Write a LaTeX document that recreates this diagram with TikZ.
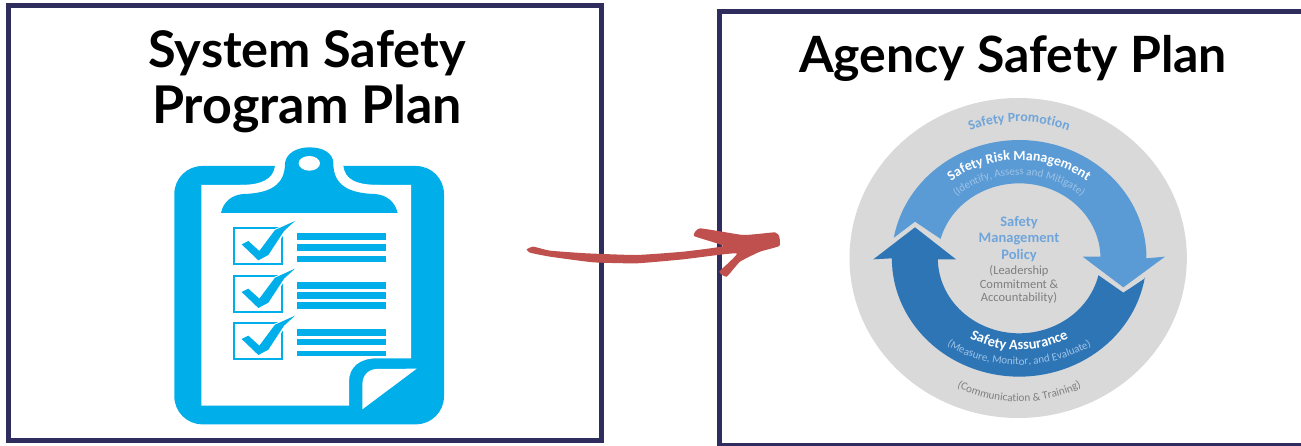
\documentclass[tikz,border=0pt]{standalone}
\usepackage{fontspec}
\setmainfont{Lato}
\newfontfamily\calfont{Carlito}
\usetikzlibrary{decorations.text}
\definecolor{frameblue}{HTML}{2E2D5E}
\definecolor{clipblue}{HTML}{00AEEA}
\definecolor{redarrow}{HTML}{C0504D}
\definecolor{ringgray}{HTML}{D9D9D9}
\definecolor{lightring}{HTML}{5B9BD5}
\definecolor{darkring}{HTML}{2E75B6}
\definecolor{paletext}{HTML}{9DC3E6}
\definecolor{midtext}{HTML}{6FA5DB}
\definecolor{greytext}{HTML}{7F7F7F}
\tikzset{
  frame/.style={draw=frameblue,line width=5pt,fill=white,outer sep=0pt,inner sep=0pt,anchor=north west},
  title/.style={font=\fontsize{50}{56}\selectfont\bfseries,text=black,inner sep=0pt,anchor=base},
  bar/.style={fill=clipblue,draw=none},
  cblue/.style={fill=clipblue,draw=none},
  cwhite/.style={fill=white,draw=none},
  cbox/.style={draw=clipblue,line width=2.3pt,fill=white},
  zoomA/.style={shift={(160,140)},x=0.33333pt,y=-0.33333pt},
  zoomB/.style={shift={(840,100)},x=0.33333pt,y=-0.33333pt},
  zoomC/.style={shift={(510,210)},x=0.33333pt,y=-0.33333pt},
  centreblue/.style={font=\calfont\bfseries\fontsize{14.5}{16}\selectfont,text=midtext,inner sep=0pt},
  centregrey/.style={font=\calfont\fontsize{12.5}{14}\selectfont,text=greytext,inner sep=0pt},
}
\newcommand{\checkitem}[1]{%
  \draw[cbox] (221,#1) rectangle (367,#1+108);
  \fill[cwhite] (243,#1+48) -- (265,#1+36) -- (298,#1+64) -- (342,#1+3) -- (405,#1-24) -- (378,#1+7) -- (330,#1+84) -- (295,#1+100) -- cycle;
  \fill[cblue] (245,#1+48) -- (265,#1+38) -- (298,#1+68) -- (345,#1+5) -- (405,#1-22) -- (372,#1+8) -- (325,#1+80) -- (295,#1+96) -- cycle;
}
\newcommand{\arctext}[5]{%
  \path[postaction={decorate,decoration={text along path,text align=center,text={#5}}}]
    plot[domain=#3:#4,samples=60] ({537.5+#1*cos(\x)},{475-#2*sin(\x)});
}
\begin{document}
\begin{tikzpicture}[x=1pt,y=-1pt]
\useasboundingbox (0,0) rectangle (1301,446);
\fill[white] (0,0) rectangle (1301,446);
\node[frame,minimum width=593pt,minimum height=435pt] (leftbox) at (8,5.5) {};
\node[frame,minimum width=620pt,minimum height=434pt] (rightbox) at (719,11.5) {};
\node[title,font=\fontsize{50.5}{56}\selectfont\bfseries] (t1) at (307,68) {System Safety};
\node[title,font=\fontsize{52}{56}\selectfont\bfseries] (t2) at (307,124) {Program Plan};
\node[title] (t3) at (1013,73) {Agency Safety Plan};
\begin{scope}[zoomA]
  \fill[cblue,rounded corners=28pt] (43,78) rectangle (852,853);
  \fill[cwhite] (124,135) -- (753,135) -- (753,655) -- (650,655) .. controls (600,655) and (567,680) .. (567,725) -- (567,797) -- (124,797) -- cycle;
  \fill[cwhite] (345,60) -- (345,78) .. controls (340,120) and (300,135) .. (240,135) -- (660,135) .. controls (590,135) and (555,120) .. (550,78) -- (550,60) -- cycle;
  \fill[cblue] (183,219) .. controls (190,185) and (215,165) .. (250,162) .. controls (330,160) and (375,135) .. (375,70) .. controls (378,40) and (410,22) .. (448,22) .. controls (490,22) and (520,40) .. (520,70) .. controls (520,135) and (565,160) .. (645,162) .. controls (680,165) and (705,185) .. (713,219) -- cycle;
  \fill[cwhite] (448,70) ellipse [x radius=32,y radius=22];
  \fill[cwhite] (607,808) -- (607,735) .. controls (607,705) and (625,688) .. (650,687) -- (770,686) -- cycle;
  \checkitem{265}
  \checkitem{408}
  \checkitem{549}
  \foreach \a/\b in {279/300,312/333,348/366,426/446,456/476,486/507,567/588,597/615,633/648}
    \fill[bar] (411,\a) rectangle (678,\b);
\end{scope}
\begin{scope}[zoomB]
  \fill[ringgray] (534.5,474) ellipse [x radius=506,y radius=480];
  \fill[lightring] plot[domain=170:0,samples=60] ({537.5+382*cos(\x)},{475-355*sin(\x)})
     -- (975,470) -- (850,562) -- (728,470) -- (783,470)
     -- plot[domain=0:165,samples=60] ({537.5+244*cos(\x)},{475-225*sin(\x)})
     -- (225,365) -- cycle;
  \fill[darkring] (100,478) -- (225,382) -- (348,478) -- (293,478)
     -- plot[domain=180:347,samples=60] ({537.5+244*cos(\x)},{475-225*sin(\x)})
     -- (850,578) -- (915,535)
     -- plot[domain=-9:-180,samples=60] ({537.5+382*cos(\x)},{475-355*sin(\x)})
     -- cycle;
  \arctext{410}{410}{120}{60}{|\calfont\bfseries\fontsize{13.8}{15}\selectfont\color{midtext}|Safety Promotion}
  \arctext{330}{295}{145}{35}{|\calfont\bfseries\fontsize{14}{15}\selectfont\color{white}|Safety Risk Management}
  \arctext{280}{250}{150}{30}{|\calfont\fontsize{11}{12}\selectfont\color{paletext}|(Identify, Assess and Mitigate)}
  \arctext{300}{275}{215}{325}{|\calfont\bfseries\fontsize{14.5}{15}\selectfont\color{white}|Safety Assurance}
  \arctext{380}{320}{205}{335}{|\calfont\fontsize{11}{12}\selectfont\color{paletext}|(Measure, Monitor, and Evaluate)}
  \arctext{430}{430}{230}{310}{|\calfont\fontsize{11.2}{12}\selectfont\color{greytext}|(Communication {\&} Training)}
\end{scope}
\node[centreblue] (c1) at (1019,222.7) {Safety};
\node[centreblue] (c2) at (1019,239) {Management};
\node[centreblue] (c3) at (1019,256) {Policy};
\node[centregrey] (c4) at (1019,270.7) {(Leadership};
\node[centregrey] (c5) at (1019,284) {Commitment \&};
\node[centregrey] (c6) at (1019,297.7) {Accountability)};
\begin{scope}[zoomC]
  \fill[redarrow] plot[smooth cycle,tension=.25] coordinates {(50,118) (70,110) (120,122) (230,130) (380,135) (520,125) (640,108) (552,78) (570,55) (700,75) (795,67) (808,80) (808,108) (750,125) (690,155) (650,200) (628,185) (680,130) (520,148) (380,160) (250,157) (120,140) (60,128)};
\end{scope}
\end{tikzpicture}
\end{document}
